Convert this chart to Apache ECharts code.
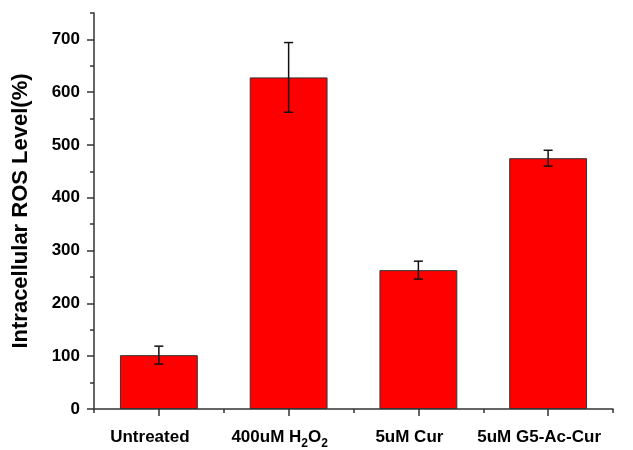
<!DOCTYPE html>
<html>
<head>
<meta charset="utf-8">
<script src="https://cdn.jsdelivr.net/npm/echarts@6/dist/echarts.min.js"></script>
<style>
  html, body { margin: 0; padding: 0; background: #fff; }
  #chart { width: 633px; height: 450px; }
</style>
</head>
<body>
<div id="chart"></div>
<script>
const categories = ['Untreated', '400uM H2O2', '5uM Cur', '5uM G5-Ac-Cur'];
const values = [102, 628, 263, 475];
const errors = [17, 66, 17, 15];
const yTicks = [0, 100, 200, 300, 400, 500, 600, 700];

const font = 'Arial, "Liberation Sans", sans-serif';
const axisColor = '#333';

// error bar rows: [category index, low, high]
const errData = values.map(function (v, i) {
  return [i, v - errors[i], v + errors[i]];
});

const chart = echarts.init(document.getElementById('chart'));
chart.setOption({
  animation: false,
  backgroundColor: '#fff',
  grid: { left: 94, right: 20, top: 13, bottom: 41 },
  xAxis: [{
    type: 'category',
    data: categories,
    position: 'bottom',
    axisLine: { show: true, lineStyle: { color: axisColor, width: 1.5 } },
    axisTick: { show: true, alignWithLabel: true, length: 7, lineStyle: { color: axisColor, width: 1.5 } },
    axisLabel: {
      interval: 0,
      margin: 15,
      color: '#000',
      fontFamily: font,
      fontWeight: 'bold',
      fontSize: 17,
      lineHeight: 26,
      padding: [0, 18, 0, 0],
      formatter: function (v) {
        return v.replace('H2O2', 'H{sub|2}O{sub|2}');
      },
      rich: {
        sub: { fontSize: 12, fontWeight: 'bold', fontFamily: font, color: '#000', lineHeight: 14, verticalAlign: 'bottom' }
      }
    }
  }, {
    type: 'category',
    data: categories,
    position: 'bottom',
    axisLine: { show: false },
    axisTick: { show: true, interval: 0, length: 4, lineStyle: { color: axisColor, width: 1.5 } },
    axisLabel: { show: false }
  }],
  yAxis: [{
    type: 'value',
    position: 'left',
    min: 0,
    max: 750,
    interval: 50,
    splitLine: { show: false },
    axisLine: { show: true, lineStyle: { color: axisColor, width: 1.5 } },
    axisTick: { show: true, length: 4, lineStyle: { color: axisColor, width: 1.5 } },
    axisLabel: {
      customValues: yTicks,
      margin: 14,
      color: '#000',
      fontFamily: font,
      fontWeight: 'bold',
      fontSize: 17
    },
    name: 'Intracellular ROS Level(%)',
    nameLocation: 'middle',
    nameGap: 62,
    nameTextStyle: { color: '#000', fontFamily: font, fontWeight: 'bold', fontSize: 22 }
  }, {
    type: 'value',
    position: 'left',
    min: 0,
    max: 750,
    interval: 50,
    splitLine: { show: false },
    axisLine: { show: false },
    axisTick: { show: true, customValues: yTicks, length: 7, lineStyle: { color: axisColor, width: 1.5 } },
    axisLabel: { show: false }
  }],
  series: [{
    type: 'bar',
    xAxisIndex: 0,
    yAxisIndex: 0,
    data: values,
    barWidth: '60%',
    itemStyle: { color: '#ff0000', borderColor: '#333', borderWidth: 1 }
  }, {
    type: 'custom',
    xAxisIndex: 0,
    yAxisIndex: 0,
    data: errData,
    z: 10,
    renderItem: function (params, api) {
      const x = api.value(0);
      const lo = api.coord([x, api.value(1)]);
      const hi = api.coord([x, api.value(2)]);
      const cap = 4.5;
      const style = { stroke: '#111', lineWidth: 1.5 };
      return {
        type: 'group',
        children: [
          { type: 'line', shape: { x1: hi[0], y1: hi[1], x2: lo[0], y2: lo[1] }, style: style },
          { type: 'line', shape: { x1: hi[0] - cap, y1: hi[1], x2: hi[0] + cap, y2: hi[1] }, style: style },
          { type: 'line', shape: { x1: lo[0] - cap, y1: lo[1], x2: lo[0] + cap, y2: lo[1] }, style: style }
        ]
      };
    }
  }]
});
</script>
</body>
</html>
